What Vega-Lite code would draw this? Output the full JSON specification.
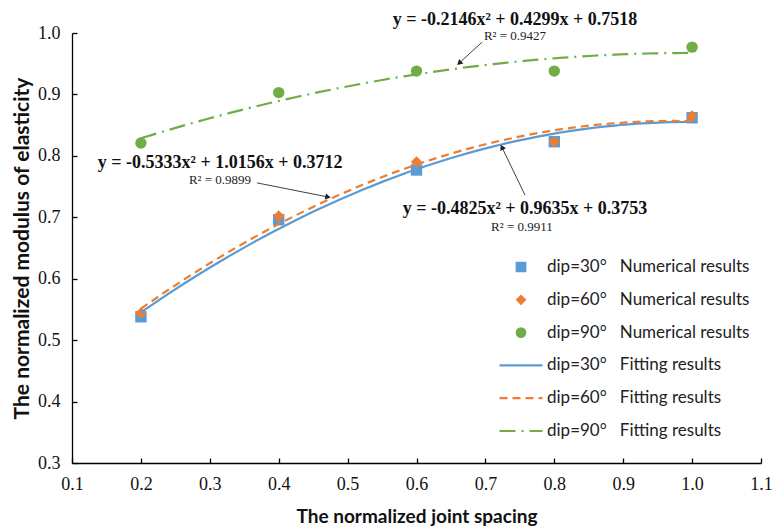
{
  "$schema": "https://vega.github.io/schema/vega-lite/v6.json",
  "width": 689,
  "height": 430,
  "autosize": {"type": "none"},
  "padding": {"left": 72, "top": 33, "right": 18, "bottom": 64},
  "background": "white",
  "config": {
    "view": {"stroke": null},
    "axis": {
      "grid": false,
      "domainColor": "#000",
      "domainWidth": 1.3,
      "tickColor": "#000",
      "tickWidth": 1.3,
      "tickSize": -5,
      "labelFont": "Liberation Serif",
      "labelFontSize": 18,
      "labelColor": "#111",
      "labelOverlap": false,
      "labelFlush": false,
      "titleFont": "Lato",
      "titleFontWeight": "bold",
      "titleColor": "#111"
    },
    "axisX": {"labelPadding": 17, "titlePadding": 14, "titleFontSize": 19},
    "axisY": {"labelPadding": 17, "titlePadding": 5, "titleFontSize": 21}
  },
  "resolve": {"legend": {"color": "independent", "shape": "independent", "strokeDash": "independent"}},
  "datasets": {
    "pts": [
      {"x": 0.2, "v": 0.538, "num": "dip=30°\u00a0\u00a0\u00a0Numerical results", "fit": "dip=30°\u00a0\u00a0\u00a0Fitting results"},
      {"x": 0.4, "v": 0.696, "num": "dip=30°\u00a0\u00a0\u00a0Numerical results", "fit": "dip=30°\u00a0\u00a0\u00a0Fitting results"},
      {"x": 0.6, "v": 0.777, "num": "dip=30°\u00a0\u00a0\u00a0Numerical results", "fit": "dip=30°\u00a0\u00a0\u00a0Fitting results"},
      {"x": 0.8, "v": 0.823, "num": "dip=30°\u00a0\u00a0\u00a0Numerical results", "fit": "dip=30°\u00a0\u00a0\u00a0Fitting results"},
      {"x": 1.0, "v": 0.862, "num": "dip=30°\u00a0\u00a0\u00a0Numerical results", "fit": "dip=30°\u00a0\u00a0\u00a0Fitting results"},
      {"x": 0.2, "v": 0.544, "num": "dip=60°\u00a0\u00a0\u00a0Numerical results", "fit": "dip=60°\u00a0\u00a0\u00a0Fitting results"},
      {"x": 0.4, "v": 0.702, "num": "dip=60°\u00a0\u00a0\u00a0Numerical results", "fit": "dip=60°\u00a0\u00a0\u00a0Fitting results"},
      {"x": 0.6, "v": 0.790, "num": "dip=60°\u00a0\u00a0\u00a0Numerical results", "fit": "dip=60°\u00a0\u00a0\u00a0Fitting results"},
      {"x": 0.8, "v": 0.823, "num": "dip=60°\u00a0\u00a0\u00a0Numerical results", "fit": "dip=60°\u00a0\u00a0\u00a0Fitting results"},
      {"x": 1.0, "v": 0.865, "num": "dip=60°\u00a0\u00a0\u00a0Numerical results", "fit": "dip=60°\u00a0\u00a0\u00a0Fitting results"},
      {"x": 0.2, "v": 0.821, "num": "dip=90°\u00a0\u00a0\u00a0Numerical results", "fit": "dip=90°\u00a0\u00a0\u00a0Fitting results"},
      {"x": 0.4, "v": 0.903, "num": "dip=90°\u00a0\u00a0\u00a0Numerical results", "fit": "dip=90°\u00a0\u00a0\u00a0Fitting results"},
      {"x": 0.6, "v": 0.938, "num": "dip=90°\u00a0\u00a0\u00a0Numerical results", "fit": "dip=90°\u00a0\u00a0\u00a0Fitting results"},
      {"x": 0.8, "v": 0.938, "num": "dip=90°\u00a0\u00a0\u00a0Numerical results", "fit": "dip=90°\u00a0\u00a0\u00a0Fitting results"},
      {"x": 1.0, "v": 0.977, "num": "dip=90°\u00a0\u00a0\u00a0Numerical results", "fit": "dip=90°\u00a0\u00a0\u00a0Fitting results"}
    ],
    "eqs": [
      {"x": 0.743, "y": 1.021, "t": "y = -0.2146x² + 0.4299x + 0.7518"},
      {"x": 0.315, "y": 0.789, "t": "y = -0.5333x² + 1.0156x + 0.3712"},
      {"x": 0.7575, "y": 0.7135, "t": "y = -0.4825x² + 0.9635x + 0.3753"}
    ],
    "r2": [
      {"x": 0.743, "y": 0.995, "t": "R² = 0.9427"},
      {"x": 0.3148, "y": 0.760, "t": "R² = 0.9899"},
      {"x": 0.753, "y": 0.684, "t": "R² = 0.9911"}
    ],
    "arrows": [
      {"id": "a1", "x": 0.695, "y": 0.985, "x2": 0.662, "y2": 0.951},
      {"id": "a2", "x": 0.3685, "y": 0.756, "x2": 0.4716, "y2": 0.733},
      {"id": "a3", "x": 0.7575, "y": 0.736, "x2": 0.724, "y2": 0.814}
    ]
  },
  "layer": [
    {
      "data": {"name": "pts"},
      "mark": {"type": "point", "filled": true, "opacity": 1, "size": 130},
      "encoding": {
        "x": {
          "field": "x", "type": "quantitative",
          "scale": {"domain": [0.1, 1.1], "nice": false, "zero": false},
          "axis": {
            "title": "The normalized joint spacing",
            "values": [0.1,0.15,0.2,0.25,0.3,0.35,0.4,0.45,0.5,0.55,0.6,0.65,0.7,0.75,0.8,0.85,0.9,0.95,1.0,1.05,1.1],
            "labelExpr": "round(datum.value*100) % 10 == 0 ? format(datum.value, '.1f') : ''"
          }
        },
        "y": {
          "field": "v", "type": "quantitative",
          "scale": {"domain": [0.3, 1.0], "nice": false, "zero": false},
          "axis": {
            "title": "The normalized modulus of elasticity",
            "values": [0.3,0.35,0.4,0.45,0.5,0.55,0.6,0.65,0.7,0.75,0.8,0.85,0.9,0.95,1.0],
            "labelExpr": "round(datum.value*100) % 10 == 0 ? format(datum.value, '.1f') : ''"
          }
        },
        "color": {
          "field": "num", "type": "nominal",
          "scale": {
            "domain": ["dip=30°\u00a0\u00a0\u00a0Numerical results", "dip=60°\u00a0\u00a0\u00a0Numerical results", "dip=90°\u00a0\u00a0\u00a0Numerical results", "dip=30°\u00a0\u00a0\u00a0Fitting results", "dip=60°\u00a0\u00a0\u00a0Fitting results", "dip=90°\u00a0\u00a0\u00a0Fitting results"],
            "range": ["#5B9BD5", "#ED7D31", "#70AD47", "#5B9BD5", "#ED7D31", "#70AD47"]
          },
          "legend": {
            "title": null,
            "orient": "none",
            "legendX": 440.5,
            "legendY": 226,
            "padding": 0,
            "offset": 0,
            "clipHeight": 16,
            "rowPadding": 15.8,
            "labelFont": "Lato",
            "labelFontSize": 17,
            "labelColor": "#222",
            "labelOffset": 17.5,
            "symbolOffset": 0,
            "symbolSize": 115,
            "symbolOpacity": 1,
            "labelLimit": 400,
            "values": ["dip=30°\u00a0\u00a0\u00a0Numerical results", "dip=60°\u00a0\u00a0\u00a0Numerical results", "dip=90°\u00a0\u00a0\u00a0Numerical results"]
          }
        },
        "shape": {
          "field": "num", "type": "nominal",
          "scale": {
            "domain": ["dip=30°\u00a0\u00a0\u00a0Numerical results", "dip=60°\u00a0\u00a0\u00a0Numerical results", "dip=90°\u00a0\u00a0\u00a0Numerical results", "dip=30°\u00a0\u00a0\u00a0Fitting results", "dip=60°\u00a0\u00a0\u00a0Fitting results", "dip=90°\u00a0\u00a0\u00a0Fitting results"],
            "range": ["square", "diamond", "circle", "stroke", "stroke", "stroke"]
          }
        }
      }
    },
    {
      "data": {"name": "pts"},
      "transform": [{"regression": "v", "on": "x", "groupby": ["fit"], "method": "poly", "order": 2}],
      "mark": {"type": "line", "strokeWidth": 2.2},
      "encoding": {
        "x": {"field": "x", "type": "quantitative"},
        "y": {"field": "v", "type": "quantitative"},
        "color": {
          "field": "fit", "type": "nominal",
          "legend": {
            "title": null,
            "orient": "none",
            "legendX": 426,
            "legendY": 324.4,
            "padding": 0,
            "offset": 0,
            "clipHeight": 16,
            "rowPadding": 15.8,
            "labelFont": "Lato",
            "labelFontSize": 17,
            "labelColor": "#222",
            "labelOffset": 3,
            "symbolOffset": 0,
            "symbolType": "stroke",
            "symbolSize": 1849,
            "symbolStrokeWidth": 2.2,
            "symbolOpacity": 1,
            "labelLimit": 400,
            "values": ["dip=30°\u00a0\u00a0\u00a0Fitting results", "dip=60°\u00a0\u00a0\u00a0Fitting results", "dip=90°\u00a0\u00a0\u00a0Fitting results"]
          }
        },
        "strokeDash": {
          "field": "fit", "type": "nominal",
          "scale": {
            "domain": ["dip=30°\u00a0\u00a0\u00a0Numerical results", "dip=60°\u00a0\u00a0\u00a0Numerical results", "dip=90°\u00a0\u00a0\u00a0Numerical results", "dip=30°\u00a0\u00a0\u00a0Fitting results", "dip=60°\u00a0\u00a0\u00a0Fitting results", "dip=90°\u00a0\u00a0\u00a0Fitting results"],
            "range": [[100, 0], [100, 0], [100, 0], [100, 0], [8, 5], [16, 6, 2, 6]]
          }
        }
      }
    },
    {
      "data": {"name": "eqs"},
      "mark": {"type": "text", "font": "Liberation Serif", "fontWeight": "bold", "fontSize": 18, "color": "#111", "align": "center", "baseline": "middle"},
      "encoding": {
        "x": {"field": "x", "type": "quantitative"},
        "y": {"field": "y", "type": "quantitative"},
        "text": {"field": "t"}
      }
    },
    {
      "data": {"name": "r2"},
      "mark": {"type": "text", "font": "Liberation Serif", "fontSize": 13, "color": "#222", "align": "center", "baseline": "middle"},
      "encoding": {
        "x": {"field": "x", "type": "quantitative"},
        "y": {"field": "y", "type": "quantitative"},
        "text": {"field": "t"}
      }
    },
    {
      "data": {"name": "arrows"},
      "mark": {"type": "rule", "color": "#404040", "strokeWidth": 1},
      "encoding": {
        "x": {"field": "x", "type": "quantitative"},
        "y": {"field": "y", "type": "quantitative"},
        "x2": {"field": "x2"},
        "y2": {"field": "y2"}
      }
    },
    {
      "data": {"name": "arrows"},
      "transform": [{"filter": "datum.id == 'a1'"}],
      "mark": {"type": "point", "shape": "triangle-up", "filled": true, "color": "#222", "opacity": 1, "size": 40, "angle": 227.6},
      "encoding": {
        "x": {"field": "x2", "type": "quantitative"},
        "y": {"field": "y2", "type": "quantitative"}
      }
    },
    {
      "data": {"name": "arrows"},
      "transform": [{"filter": "datum.id == 'a2'"}],
      "mark": {"type": "point", "shape": "triangle-up", "filled": true, "color": "#222", "opacity": 1, "size": 40, "angle": 101},
      "encoding": {
        "x": {"field": "x2", "type": "quantitative"},
        "y": {"field": "y2", "type": "quantitative"}
      }
    },
    {
      "data": {"name": "arrows"},
      "transform": [{"filter": "datum.id == 'a3'"}],
      "mark": {"type": "point", "shape": "triangle-up", "filled": true, "color": "#222", "opacity": 1, "size": 40, "angle": 334.4},
      "encoding": {
        "x": {"field": "x2", "type": "quantitative"},
        "y": {"field": "y2", "type": "quantitative"}
      }
    }
  ]
}
